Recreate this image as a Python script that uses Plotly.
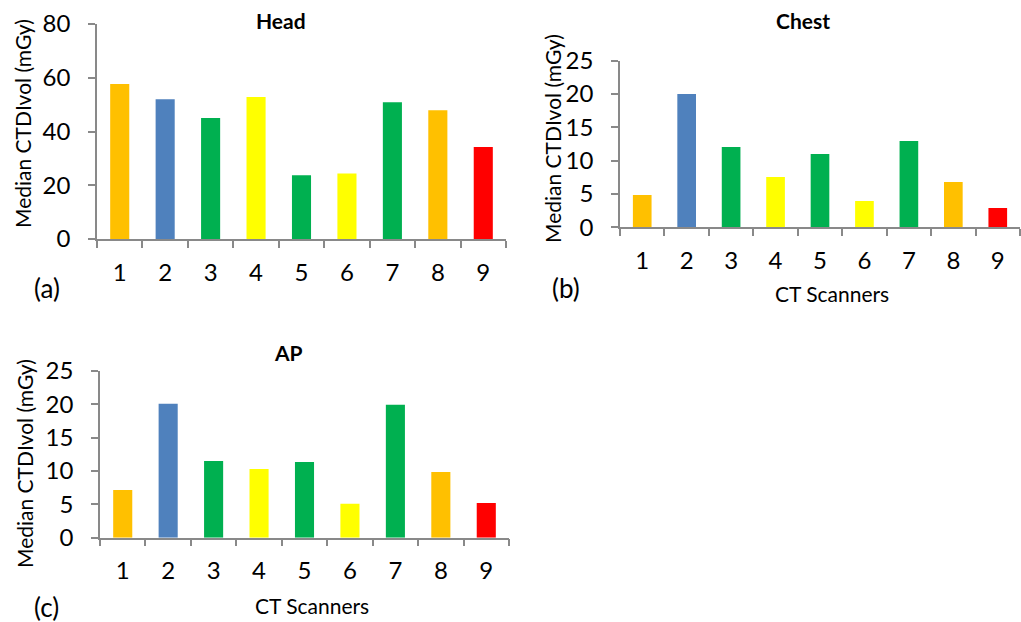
import plotly.graph_objects as go

# CT scanner identifiers (x categories)
scanners = ["1", "2", "3", "4", "5", "6", "7", "8", "9"]

# Median CTDIvol (mGy) per scanner for each protocol
head_ctdi = [57.7, 52.0, 45.0, 52.8, 23.7, 24.4, 50.9, 47.9, 34.2]
chest_ctdi = [4.85, 20.0, 12.05, 7.55, 11.0, 3.95, 12.95, 6.8, 2.9]
ap_ctdi = [7.15, 20.05, 11.5, 10.3, 11.35, 5.1, 19.9, 9.85, 5.2]

# Bar colours per scanner
bar_colors = ["#FFC000", "#4F81BD", "#00B050", "#FFFF00", "#00B050",
              "#FFFF00", "#00B050", "#FFC000", "#FF0000"]

FONT = "Lato, Carlito, Calibri, sans-serif"
AXIS_GRAY = "#898989"
W, H = 1021, 622


def px_x(p):
    return p / W


def px_y(p):
    return 1 - p / H


fig = go.Figure()

panels = [
    # values, xaxis, yaxis, x-domain px, y-domain px, y max, dtick
    (head_ctdi, "x", "y", (97, 506), (239, 24), 80, 20),
    (chest_ctdi, "x2", "y2", (620, 1020), (227.3, 60.7), 25, 5),
    (ap_ctdi, "x3", "y3", (100, 509), (537.7, 370.7), 25, 5),
]

for i, (vals, xa, ya, xd, yd, ymax, dt) in enumerate(panels):
    fig.add_trace(go.Bar(
        x=scanners, y=vals, xaxis=xa, yaxis=ya,
        marker=dict(color=bar_colors, line=dict(width=0)),
        showlegend=False, hoverinfo="x+y",
    ))
    sfx = "" if i == 0 else str(i + 1)
    fig.layout["xaxis" + sfx] = dict(
        domain=[px_x(xd[0]), px_x(xd[1])],
        anchor=ya, type="category", tickson="boundaries",
        showline=True, linecolor=AXIS_GRAY, linewidth=1.5,
        ticks="outside", ticklen=7, tickwidth=1.5, tickcolor=AXIS_GRAY,
        showgrid=False, zeroline=False, automargin=False,
        tickfont=dict(family=FONT, size=24, color="#000"),
        ticklabelstandoff=11, fixedrange=True,
    )
    fig.layout["yaxis" + sfx] = dict(
        domain=[px_y(yd[0]), px_y(yd[1])],
        anchor=xa, range=[0, ymax], dtick=dt, tick0=0,
        showline=True, linecolor=AXIS_GRAY, linewidth=1.5,
        ticks="outside", ticklen=7, tickwidth=1.5, tickcolor=AXIS_GRAY,
        showgrid=False, zeroline=False, automargin=False,
        tickfont=dict(family=FONT, size=24, color="#000"),
        ticklabelstandoff=13, fixedrange=True,
    )

# Text labels placed in pixel coordinates of the page
texts = [
    ("<b>Head</b>", 281, 21, 0, 21),
    ("<b>Chest</b>", 803, 21, 0, 21),
    ("<b>AP</b>", 288, 352, 0, 21),
    ("Median CTDIvol (mGy)", 22, 124, -90, 21),
    ("Median CTDIvol (mGy)", 552, 139, -90, 21),
    ("Median CTDIvol (mGy)", 24, 464, -90, 21),
    ("(a)", 47, 288, 0, 26),
    ("(b)", 566, 288, 0, 26),
    ("(c)", 46, 607, 0, 26),
    ("CT Scanners", 832, 294, 0, 21),
    ("CT Scanners", 312, 605, 0, 21),
]
for t, x, y, ang, sz in texts:
    fig.add_annotation(
        text=t, x=px_x(x), y=px_y(y), xref="paper", yref="paper",
        xanchor="center", yanchor="middle", textangle=ang,
        showarrow=False, font=dict(family=FONT, size=sz, color="#000"),
    )

fig.update_layout(
    width=W, height=H, margin=dict(l=0, r=0, t=0, b=0),
    paper_bgcolor="white", plot_bgcolor="white",
    bargap=0.58,
)

fig.write_html("out.html", config={"displayModeBar": False})
